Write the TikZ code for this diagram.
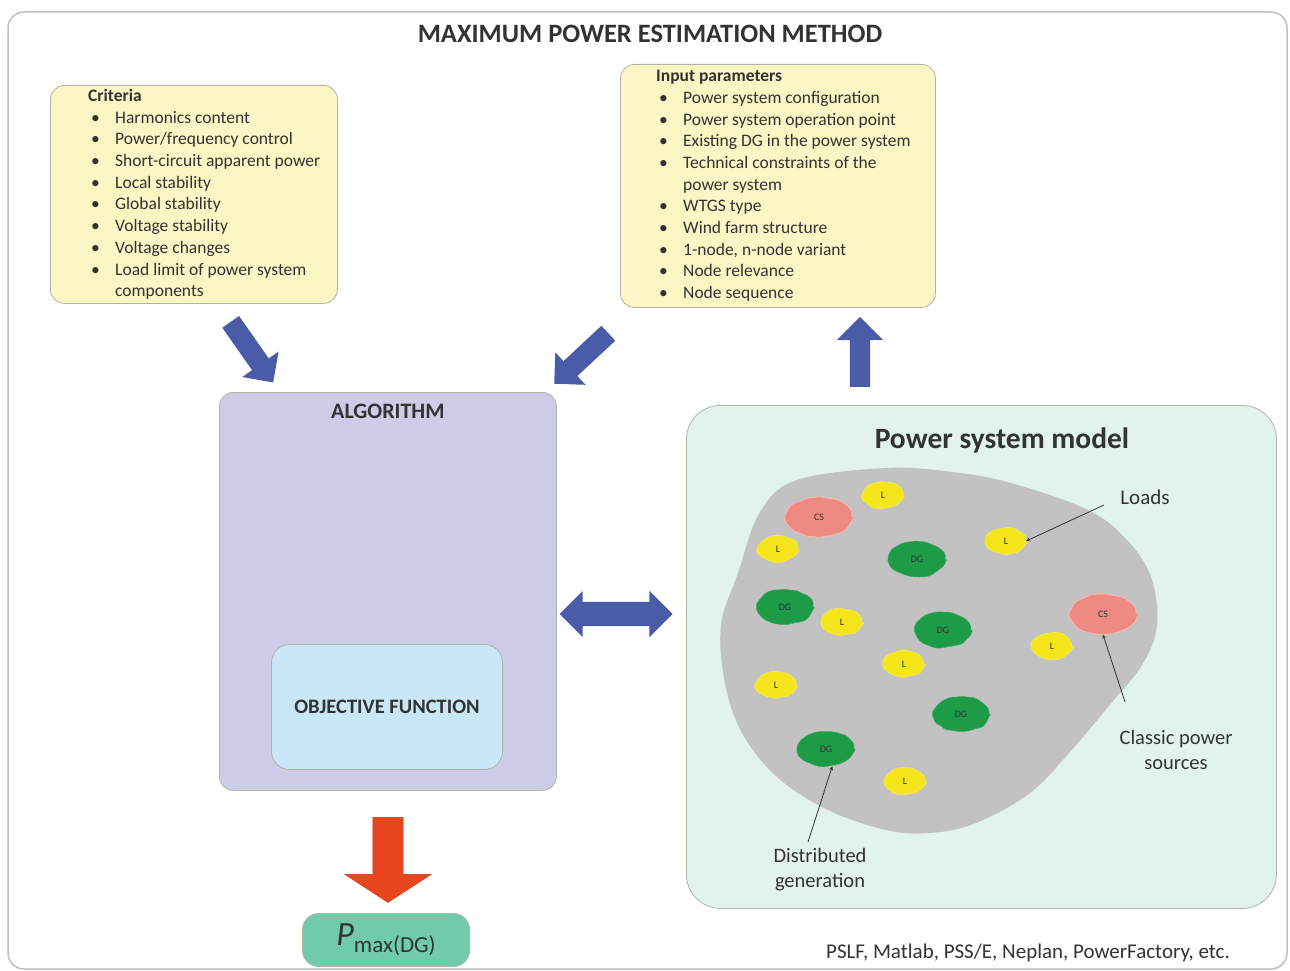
\documentclass[tikz,border=0pt]{standalone}
\usepackage{fontspec}
\setmainfont{Carlito}
\usetikzlibrary{arrows,positioning,shapes.arrows,shapes.geometric,decorations.pathmorphing}

\definecolor{critfill}{HTML}{FCF5C4}
\definecolor{boxline}{HTML}{B5B3A8}
\definecolor{algofill}{HTML}{CDCDE7}
\definecolor{objfill}{HTML}{C9E7F7}
\definecolor{modelfill}{HTML}{E1F3EB}
\definecolor{areagray}{HTML}{C2C2C2}
\definecolor{loadyellow}{HTML}{F5E51B}
\definecolor{dggreen}{HTML}{1E9B47}
\definecolor{cspink}{HTML}{EE8A82}
\definecolor{flowblue}{HTML}{4A5CA8}
\definecolor{outred}{HTML}{E8471E}
\definecolor{pmaxfill}{HTML}{70CCA8}
\definecolor{txt}{HTML}{333333}

\newcommand{\itm}[1]{\hspace*{3pt}\makebox[24pt][l]{\textbullet}#1}

\begin{document}
\begin{tikzpicture}[x=1pt, y=-1pt, text=txt,
    panel/.style={draw=boxline, line width=0.8pt, rounded corners=14pt, inner sep=0pt},
    listtext/.style={align=left, inner sep=0pt, font=\fontsize{17.5}{21.7}\selectfont},
    flow/.style={single arrow, fill=flowblue, draw=none, inner xsep=0pt, inner ysep=10pt,
      minimum width=44pt, single arrow head extend=12pt},
    spot/.style={ellipse, inner sep=0pt, font=\fontsize{10}{10}\selectfont,
      decorate, decoration={random steps, segment length=5pt, amplitude=1pt}, rounded corners=2pt},
    ld/.style={spot, fill=loadyellow, draw=loadyellow!70!white, minimum width=40pt, minimum height=26pt},
    dg/.style={spot, fill=dggreen, draw=dggreen!80!white, minimum width=56pt, minimum height=35pt},
    cs/.style={spot, fill=cspink, draw=cspink!60!white, line width=1pt, minimum width=66pt, minimum height=40pt},
    note/.style={-stealth, draw=txt, line width=0.8pt}]
  \pgfmathsetseed{11}
  \useasboundingbox (0,0) rectangle (1290,971);
  \draw[draw=black!25, line width=1.5pt, fill=white, rounded corners=16pt] (8,12) rectangle (1287,969);
  \node[font=\fontsize{26.5}{26.5}\selectfont\bfseries] (title) at (650,34) {MAXIMUM POWER ESTIMATION METHOD};

  % criteria and input parameters
  \node[panel, fill=critfill, minimum width=287pt, minimum height=218pt, anchor=north west] (crit) at (50,85) {};
  \node[listtext, anchor=west] (crittext) at ([xshift=38pt]crit.west) {%
    \textbf{Criteria}\\
    \itm{Harmonics content}\\
    \itm{Power/frequency control}\\
    \itm{Short-circuit apparent power}\\
    \itm{Local stability}\\
    \itm{Global stability}\\
    \itm{Voltage stability}\\
    \itm{Voltage changes}\\
    \itm{Load limit of power system}\\
    \hspace*{27pt}components};
  \node[panel, fill=critfill, minimum width=315pt, minimum height=243pt, anchor=north west] (inp) at (620,64) {};
  \node[listtext, anchor=west] (inptext) at ([xshift=36pt]inp.west) {%
    \textbf{Input parameters}\\
    \itm{Power system configuration}\\
    \itm{Power system operation point}\\
    \itm{Existing DG in the power system}\\
    \itm{Technical constraints of the}\\
    \hspace*{27pt}power system\\
    \itm{WTGS type}\\
    \itm{Wind farm structure}\\
    \itm{1-node, n-node variant}\\
    \itm{Node relevance}\\
    \itm{Node sequence}};

  % algorithm
  \node[panel, fill=algofill, minimum width=337pt, minimum height=398pt, anchor=north west] (algo) at (219,392) {};
  \node[font=\fontsize{22}{22}\selectfont\bfseries, below=9pt of algo.north] (algotitle) {ALGORITHM};
  \node[panel, fill=objfill, rounded corners=18pt, minimum width=231pt, minimum height=125pt,
    font=\fontsize{20.5}{20.5}\selectfont\bfseries] (obj) at (387,707) {OBJECTIVE FUNCTION};

  % arrows
  \node[flow, minimum height=74pt, rotate=-55] (critarrow) at (249,348) {};
  \node[flow, minimum height=74pt, rotate=-137] (inparrow) at (585,355) {};
  \node[flow, minimum height=70pt, minimum width=46pt, single arrow head extend=13pt, rotate=90] (uparrow) at (860,357) {};
  \node[double arrow, fill=flowblue, inner xsep=0pt, inner ysep=12pt, minimum height=113pt, minimum width=46pt,
    double arrow head extend=11pt] (linkarrow) at (616,614) {};
  \node[single arrow, fill=outred, draw=outred!80!black, inner xsep=0pt, inner ysep=15pt, minimum height=85pt,
    minimum width=86pt, single arrow head extend=28pt, single arrow tip angle=114, rotate=-90] (outarrow) at (388,855) {};

  % result
  \node[panel, fill=pmaxfill, rounded corners=16pt, minimum width=167pt, minimum height=53pt] (pmax) at (386,940)
    {{\fontsize{34}{34}\selectfont\itshape P}\raisebox{-7pt}{\fontsize{23}{23}\selectfont max(DG)}};

  % power system model
  \node[panel, fill=modelfill, rounded corners=34pt, minimum width=590pt, minimum height=503pt, anchor=north west] (model) at (686,405) {};
  \node[font=\fontsize{29.5}{29.5}\selectfont\bfseries] (modeltitle) at (1002,440) {Power system model};
  \path[fill=areagray] plot[smooth cycle, tension=0.6] coordinates {
    (886,468) (797,480) (760,512) (738,573) (721,625) (725,683) (742,733) (777,777)
    (828,810) (886,830) (930,833) (976,823) (1030,793) (1069,753) (1108,707) (1142,665)
    (1157,625) (1151,577) (1127,540) (1088,510) (1011,483) (952,472)};
  \node[cs] (cs1) at (819,517) {CS};
  \node[cs] (cs2) at (1103,614) {CS};
  \node[ld] (l1) at (883,495) {L};
  \node[ld] (l2) at (1006,541) {L};
  \node[ld] (l3) at (778,549) {L};
  \node[ld] (l4) at (842,622) {L};
  \node[ld] (l5) at (1052,646) {L};
  \node[ld] (l6) at (904,664) {L};
  \node[ld] (l7) at (776,685) {L};
  \node[ld] (l8) at (905,781) {L};
  \node[dg] (dg1) at (917,559) {DG};
  \node[dg] (dg2) at (785,607) {DG};
  \node[dg] (dg3) at (943,630) {DG};
  \node[dg] (dg4) at (961,714) {DG};
  \node[dg] (dg5) at (826,749) {DG};

  \node[font=\fontsize{21}{21}\selectfont] (loadslbl) at (1145,497) {Loads};
  \node[align=center, font=\fontsize{20.5}{25}\selectfont] (cslbl) at (1176,750) {Classic power\\sources};
  \node[align=center, font=\fontsize{20.5}{25}\selectfont] (dglbl) at (820,870) {Distributed\\generation};
  \coordinate (ldtail) at (1104,505);
  \coordinate (cstail) at (1125,702);
  \coordinate (dgtail) at (808,842);
  \draw[note] (ldtail) -- (l2.east);
  \draw[note] (cstail) -- (cs2.south);
  \draw[note] (dgtail) -- (dg5.-70);

  \node[font=\fontsize{21}{21}\selectfont] (tools) at (1028,953) {PSLF, Matlab, PSS/E, Neplan, PowerFactory, etc.};
\end{tikzpicture}
\end{document}
